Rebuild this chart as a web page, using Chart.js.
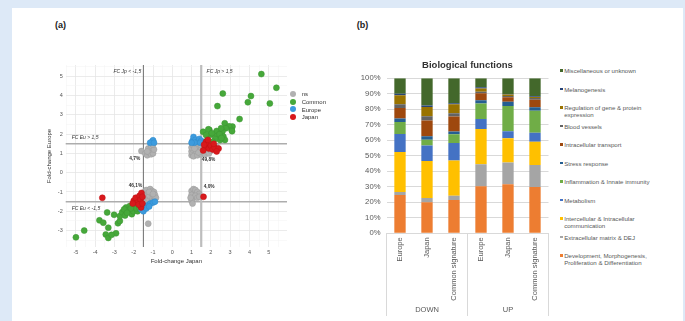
<!DOCTYPE html>
<html lang="en">
<head>
<meta charset="UTF-8">
<title>Fold-change scatter and biological functions</title>
<script src="https://cdn.jsdelivr.net/npm/chart.js@4.4.1/dist/chart.umd.min.js"></script>
<style>
  body { margin: 0; width: 685px; height: 321px; overflow: hidden; background: #dde9f7; font-family: 'Liberation Sans', Arial, sans-serif; }
  .panel { position: absolute; left: 12px; top: 8px; width: 671px; height: 313px; background: #fff; }
  .tag { position: absolute; top: 20.5px; font-size: 9px; line-height: 9.5px; font-weight: bold; color: #222; }
  canvas { position: absolute; }
  #legendA { position: absolute; left: 290.3px; top: 90.75px; font-size: 6px; color: #333; }
  #legendA div { height: 7.9px; line-height: 7.9px; white-space: nowrap; }
  #legendA span { display: inline-block; width: 6px; height: 6px; border-radius: 50%; vertical-align: middle; margin-right: 5.4px; position: relative; top: -0.5px; }
  #legendB { position: absolute; left: 560px; top: 61.45px; font-size: 6.1px; color: #595959; }
  #legendB .item { height: 18.5px; box-sizing: border-box; padding-top: 5.6px; display: flex; align-items: flex-start; }
  #legendB .mk { width: 2.6px; height: 2.6px; margin-top: 2.35px; margin-right: 1.6px; flex: none; }
  #legendB .tx { width: 90px; line-height: 7.3px; }
</style>
</head>
<body>

<div class="panel"></div>
<div class="tag" style="left:55px">(a)</div>
<div class="tag" style="left:356.7px">(b)</div>

<!-- (a) fold-change scatter -->
<canvas id="scatterChart" width="252" height="212" style="left:40px; top:55px"></canvas>
<div id="legendA"></div>

<!-- (b) stacked 100% bars -->
<canvas id="barChart" width="200" height="266" style="left:350px; top:50px"></canvas>
<div id="legendB"></div>

<script>
    // ---- panel (a) data : [fold-change Japan, fold-change Europe] ----
    var nsPoints = [
        [1.0,0.9],[1.05,1.0],[1.0,1.1],[1.05,1.2],[1.0,1.3],[1.1,1.4],[1.15,1.5],[1.2,0.95],[1.25,1.1],[1.3,1.25],
        [1.35,1.4],[1.4,1.0],[1.45,1.15],[1.5,1.3],[1.2,1.35],[1.1,0.85],[1.3,0.9],[1.5,0.95],[1.6,1.05],[1.7,0.95],
        [1.8,1.1],[1.9,1.0],[2.0,1.15],[1.6,1.2],[1.45,1.45],[2.3,1.35],[1.05,1.45],[1.25,1.5],[1.35,1.05],[1.15,1.25],
        [-1.6,1.12],[-1.4,1.0],[-1.3,0.9],[-1.2,1.05],[-1.1,0.95],[-1.0,1.0],[-1.15,1.2],[-1.05,1.3],[-1.25,1.25],[-1.1,1.4],
        [-0.95,1.2],[-1.3,1.1],[-1.0,1.45],
        [-1.45,-1.0],[-1.35,-0.9],[-1.25,-1.05],[-1.15,-0.85],[-1.05,-0.95],[-0.95,-1.0],[-0.9,-1.15],[-1.0,-1.3],[-1.1,-1.2],[-1.2,-1.35],
        [-1.3,-1.25],[-1.4,-1.4],[-1.5,-1.2],[-0.95,-1.45],[-1.05,-1.5],[-1.15,-1.55],[-1.3,-1.5],[-1.45,-1.55],[-1.55,-1.4],[-0.85,-1.3],
        [-1.2,-1.0],[-1.0,-1.1],[-1.25,-2.64],
        [1.0,-0.95],[1.1,-0.85],[1.2,-0.9],[1.3,-1.0],[1.4,-1.1],[1.0,-1.15],[1.1,-1.3],[1.0,-1.45],[1.05,-1.6],[1.2,-1.2],
        [1.3,-1.3],[1.4,-1.25],[0.95,-1.3]
    ];
    var commonPoints = [
        [4.62,5.11],[5.4,4.4],[2.62,4.1],[4.08,3.97],[3.92,3.65],[5.06,3.59],[2.34,3.45],[3.49,2.78],[2.72,2.56],[3.12,2.39],
        [2.95,2.4],[3.08,2.21],[2.78,2.3],[2.6,2.14],[2.3,2.16],[1.92,2.22],[1.6,2.12],[1.99,1.96],[2.3,1.9],[2.65,1.87],
        [2.73,1.7],[2.48,1.69],[2.22,1.75],[1.82,1.7],[1.87,2.25],[2.05,2.05],[2.45,2.0],[2.55,1.8],[2.1,1.6],[1.75,1.95],
        [3.1,2.15],[2.53,2.3],
        [-5.0,-3.35],[-4.57,-3.0],[-3.78,-2.47],[-3.58,-2.59],[-3.32,-2.85],[-3.38,-2.06],[-3.02,-2.18],[-3.45,-3.2],[-3.32,-3.38],[-2.92,-3.14],
        [-3.15,-3.22],[-2.82,-2.62],[-2.72,-2.5],[-2.72,-2.25],[-2.6,-2.05],[-2.45,-2.22],[-2.4,-1.8],[-2.28,-1.95],[-2.2,-1.72],[-2.1,-2.15],
        [-2.02,-2.0],[-1.95,-1.78],[-1.8,-2.0],[-2.5,-1.9],[-2.15,-1.85],[-1.85,-1.85],[-2.35,-2.08],[-1.7,-1.85]
    ];
    var europePoints = [
        [1.05,1.65],[1.1,1.85],[1.2,1.7],[1.3,1.6],[1.4,1.75],[1.5,1.65],[1.15,1.55],[1.0,1.55],[1.6,1.55],[1.45,1.55],
        [-1.05,1.6],[-1.0,1.68],[-1.15,1.55],[-0.95,1.55],
        [-1.6,-1.9],[-1.45,-1.8],[-1.3,-1.7],[-1.15,-1.6],[-1.0,-1.55],[-1.5,-2.0],[-1.35,-1.85],[-1.2,-1.75],[-0.9,-1.5]
    ];
    var japanPoints = [
        [1.75,1.6],[1.8,1.45],[1.7,1.3],[1.9,1.25],[2.0,1.4],[2.1,1.2],[2.2,1.3],[2.4,1.25],[1.6,1.15],[2.3,1.1],
        [1.85,1.7],[1.65,1.45],[2.15,1.5],
        [-3.63,-1.3],[-2.0,-1.45],[-1.9,-1.3],[-1.8,-1.55],[-1.7,-1.2],[-1.6,-1.05],[-1.65,-1.4],[-1.55,-1.25],[-2.05,-1.6],
        [-1.62,-1.8],[-1.75,-1.65],[-1.55,-1.6],
        [1.62,-1.25]
    ];
    var groupNames = ['ns', 'Common', 'Europe', 'Japan'];
    var thresholds = [-1.5, 1.5];
    var noteTexts = ['FC Jp < -1,5', 'FC Jp > 1,5', 'FC Eu > 1,5', 'FC Eu < -1,5', '4,7%', '49,8%', '46,1%', '4,0%'];
    var noteX = [-3.05, 1.78, -5.22, -5.22, -1.95, 1.88, -1.91, 1.91];
    var noteY = [5.22, 5.22, 1.83, -1.85, 0.71, 0.69, -0.67, -0.72];

    // ---- panel (b) data : percentages per signature ----
    var categories = ['Europe', 'Japan', 'Common signature', 'Europe', 'Japan', 'Common signature'];
    var regulationGroups = ['DOWN', 'UP'];
    var development   = [24.7, 20.0, 21.5, 30.3, 31.6, 29.9];
    var extracellular = [2.0, 2.8, 2.8, 14.2, 14.0, 14.2];
    var communication = [25.8, 23.9, 22.6, 22.8, 15.7, 15.0];
    var metabolism    = [11.6, 9.9, 11.4, 6.5, 4.5, 5.8];
    var inflammation  = [7.7, 3.8, 5.6, 9.9, 16.4, 14.2];
    var stress        = [2.2, 2.2, 1.7, 2.1, 2.7, 2.2];
    var transport     = [6.9, 10.1, 9.7, 4.5, 2.8, 4.9];
    var bloodVessels  = [2.3, 2.8, 2.1, 1.1, 0.9, 1.1];
    var regulation    = [5.8, 6.0, 5.8, 2.1, 0.9, 0.7];
    var melanogenesis = [1.1, 0.9, 0.7, 0.7, 0.4, 0.4];
    var miscellaneous = [9.9, 17.6, 16.1, 5.8, 10.1, 11.6];
    var functionNames = [
        'Development, Morphogenesis, Proliferation & Differentiation',
        'Extracellular matrix & DEJ',
        'Intercellular & Intracellular communication',
        'Metabolism',
        'Inflammation & Innate immunity',
        'Stress response',
        'Intracellular transport',
        'Blood vessels',
        'Regulation of gene & protein expression',
        'Melanogenesis',
        'Miscellaneous or unknown'
    ];

    Chart.defaults.font.family = "'Liberation Sans', Arial, sans-serif";

    // ---------- (a) ----------
    var pointColors = ['#b1b1b1', '#46a83a', '#3c9bde', '#d8191c'];
    var pointBorders = ['#9a9a9a', '#3a9530', '#2f89c9', '#c01015'];
    var pointSets = [nsPoints, commonPoints, europePoints, japanPoints];

    function isWhole(v) { return Math.abs(v - Math.round(v)) < 1e-6; }

    var guidePlugin = {
        id: 'guides',
        beforeDatasetsDraw: function(chart) {
            var ctx = chart.ctx, a = chart.chartArea, x = chart.scales.x, y = chart.scales.y;
            ctx.save();
            thresholds.forEach(function(t) {
                var py = y.getPixelForValue(t);
                ctx.beginPath();
                ctx.strokeStyle = '#adadad';
                ctx.lineWidth = 1.5;
                ctx.moveTo(a.left, py); ctx.lineTo(a.right, py);
                ctx.stroke();
            });
            thresholds.forEach(function(t) {
                var px = x.getPixelForValue(t);
                ctx.beginPath();
                ctx.strokeStyle = t < 0 ? '#6e6e6e' : '#bdbdbd';
                ctx.lineWidth = t < 0 ? 1 : 2.2;
                ctx.moveTo(px, a.top); ctx.lineTo(px, a.bottom);
                ctx.stroke();
            });
            ctx.restore();
        },
        afterDatasetsDraw: function(chart) {
            var ctx = chart.ctx, x = chart.scales.x, y = chart.scales.y;
            ctx.save();
            ctx.fillStyle = '#333';
            ctx.textBaseline = 'middle';
            noteTexts.forEach(function(txt, i) {
                var isFc = txt.indexOf('FC') === 0;
                ctx.font = (isFc ? 'italic 5px ' : 'bold 4.8px ') + "'Liberation Sans', Arial, sans-serif";
                ctx.textAlign = isFc ? 'left' : 'center';
                ctx.fillText(txt, x.getPixelForValue(noteX[i]), y.getPixelForValue(noteY[i]));
            });
            ctx.restore();
        }
    };

    var gridOpts = {
        drawTicks: false,
        color: function(c) { return isWhole(c.tick.value) ? '#e6e6e6' : '#f3f3f3'; },
        lineWidth: function(c) { return isWhole(c.tick.value) ? 0.8 : 0.5; }
    };
    var tickOpts = {
        stepSize: 0.5,
        includeBounds: false,
        autoSkip: false,
        maxRotation: 0,
        padding: 3,
        font: { size: 5.5 },
        color: '#555',
        callback: function(v) { return isWhole(v) ? Math.round(v) : ''; }
    };

    new Chart(document.getElementById('scatterChart'), {
        type: 'scatter',
        data: {
            datasets: pointSets.map(function(pts, i) {
                return {
                    label: groupNames[i],
                    data: pts.map(function(p) { return { x: p[0], y: p[1] }; }),
                    backgroundColor: pointColors[i],
                    borderColor: pointBorders[i],
                    borderWidth: 0.5,
                    pointRadius: 3,
                    order: pointSets.length - i
                };
            })
        },
        options: {
            responsive: false,
            animation: false,
            devicePixelRatio: 1,
            layout: { padding: { left: 0, top: 10, right: 5, bottom: 0 } },
            plugins: { legend: { display: false }, tooltip: { enabled: false } },
            scales: {
                x: {
                    type: 'linear', min: -5.53, max: 5.95,
                    grid: gridOpts, border: { display: false },
                    ticks: Object.assign({}, tickOpts, { padding: 2 }),
                    title: { display: true, text: 'Fold-change Japan', font: { size: 6 }, color: '#333', padding: { top: 0, bottom: 2.4 } },
                    afterFit: function(s) { s.height = 20; }
                },
                y: {
                    type: 'linear', min: -3.85, max: 5.58,
                    grid: gridOpts, border: { display: false },
                    ticks: tickOpts,
                    title: { display: true, text: 'Fold-change Europe', font: { size: 6 }, color: '#333', padding: { top: 5.4, bottom: 0 } },
                    afterFit: function(s) { s.width = 25.7; }
                }
            }
        },
        plugins: [guidePlugin]
    });

    var legendA = document.getElementById('legendA');
    groupNames.forEach(function(name, i) {
        var row = document.createElement('div');
        row.innerHTML = '<span style="background:' + pointColors[i] + '"></span>' + name;
        legendA.appendChild(row);
    });

    // ---------- (b) ----------
    var seriesValues = [development, extracellular, communication, metabolism, inflammation,
                        stress, transport, bloodVessels, regulation, melanogenesis, miscellaneous];
    var functionColors = ['#ed7d31', '#a5a5a5', '#ffc000', '#4472c4', '#70ad47',
                          '#255e91', '#9e480e', '#636363', '#997300', '#264478', '#43682b'];

    var separatorPlugin = {
        id: 'separators',
        afterDraw: function(chart) {
            var ctx = chart.ctx, a = chart.chartArea, x = chart.scales.x, x2 = chart.scales.x2;
            var half = categories.length / 2;
            var mid = (x.getPixelForValue(half - 1) + x.getPixelForValue(half)) / 2;
            ctx.save();
            ctx.strokeStyle = '#d9d9d9';
            ctx.lineWidth = 1;
            [a.left, mid, a.right].forEach(function(px) {
                ctx.beginPath();
                ctx.moveTo(px, a.bottom); ctx.lineTo(px, x2.bottom);
                ctx.stroke();
            });
            ctx.restore();
        }
    };

    new Chart(document.getElementById('barChart'), {
        type: 'bar',
        data: {
            labels: categories,
            datasets: functionNames.map(function(name, i) {
                return {
                    label: name,
                    data: seriesValues[i],
                    backgroundColor: functionColors[i],
                    borderWidth: 0,
                    barPercentage: 0.42,
                    categoryPercentage: 1
                };
            })
        },
        options: {
            responsive: false,
            animation: false,
            devicePixelRatio: 1,
            layout: { padding: { left: 0, top: 0, right: 1.5, bottom: 0 } },
            plugins: {
                legend: { display: false },
                tooltip: { enabled: false },
                title: {
                    display: true, text: 'Biological functions', fullSize: false,
                    font: { size: 9.5, weight: 'bold' }, color: '#333',
                    padding: { top: 10, bottom: 6.9 }
                }
            },
            scales: {
                x: {
                    stacked: true, offset: true,
                    grid: { display: false, drawTicks: false },
                    border: { display: true, color: '#d9d9d9' },
                    ticks: { minRotation: 90, maxRotation: 90, autoSkip: false, padding: 4, font: { size: 7.5 }, color: '#595959' },
                    afterFit: function(s) { s.height = 69.7; }
                },
                x2: {
                    type: 'category', labels: regulationGroups, position: 'bottom', offset: true, weight: 1,
                    grid: { display: false, drawTicks: false }, border: { display: false },
                    ticks: { padding: 2, font: { size: 7.5 }, color: '#595959' },
                    afterFit: function(s) { s.height = 13; }
                },
                y: {
                    stacked: true, min: 0, max: 100,
                    grid: { color: '#d9d9d9', drawTicks: false },
                    border: { display: false },
                    ticks: { stepSize: 10, padding: 6, font: { size: 7.7 }, color: '#595959', callback: function(v) { return v + '%'; } },
                    afterFit: function(s) { s.width = 36.5; }
                }
            }
        },
        plugins: [separatorPlugin]
    });

    var legendB = document.getElementById('legendB');
    for (var i = functionNames.length - 1; i >= 0; i--) {
        var item = document.createElement('div');
        item.className = 'item';
        item.innerHTML = '<span class="mk" style="background:' + functionColors[i] + '"></span><span class="tx">' +
            functionNames[i].replace(/&/g, '&amp;') + '</span>';
        legendB.appendChild(item);
    }
</script>

</body>
</html>
